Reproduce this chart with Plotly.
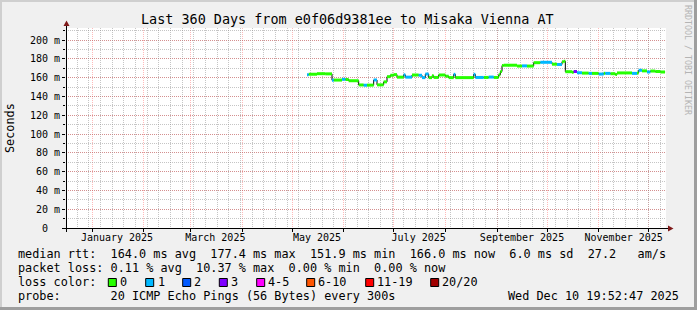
import plotly.graph_objects as go
import pandas as pd

# ---------------- data ----------------
dates = [
    "2025-05-10", "2025-05-11", "2025-05-16", "2025-05-21", "2025-05-25", "2025-05-26",
    "2025-05-31", "2025-06-02", "2025-06-04", "2025-06-10", "2025-06-13", "2025-06-15",
    "2025-06-19", "2025-06-21", "2025-06-25", "2025-06-27", "2025-06-29", "2025-07-01",
    "2025-07-03", "2025-07-07", "2025-07-08", "2025-07-12", "2025-07-16", "2025-07-18",
    "2025-07-20", "2025-07-22", "2025-07-24", "2025-07-25", "2025-07-28", "2025-08-01",
    "2025-08-03", "2025-08-06", "2025-08-07", "2025-08-18", "2025-08-19", "2025-08-24",
    "2025-08-27", "2025-08-30", "2025-09-02", "2025-09-03", "2025-09-04", "2025-09-05",
    "2025-09-13", "2025-09-16", "2025-09-19", "2025-09-23", "2025-09-27", "2025-10-04",
    "2025-10-07", "2025-10-10", "2025-10-11", "2025-10-12", "2025-10-16", "2025-10-17",
    "2025-10-19", "2025-10-22", "2025-10-26", "2025-10-28", "2025-11-01", "2025-11-04",
    "2025-11-05", "2025-11-08", "2025-11-11", "2025-11-12", "2025-11-21", "2025-11-24",
    "2025-11-25", "2025-11-27", "2025-11-30", "2025-12-02", "2025-12-05", "2025-12-08",
]
median_ms = [
    163.0, 163.6, 164.2, 164.0, 157.2, 157.4,
    158.2, 158.0, 156.7, 152.2, 151.9, 152.0,
    157.5, 152.3, 155.5, 161.0, 162.5, 163.2,
    160.5, 163.0, 160.5, 162.8, 162.5, 160.0,
    163.8, 160.0, 162.0, 160.2, 162.8, 161.5,
    160.0, 163.5, 160.0, 163.5, 160.2, 160.2,
    160.6, 160.2, 163.0, 166.5, 172.8, 173.2,
    172.3, 172.5, 172.3, 175.9, 176.3, 174.3,
    174.0, 177.0, 177.4, 166.3, 165.6, 166.5,
    165.2, 164.8, 164.5, 164.5, 163.8, 164.6,
    164.5, 164.2, 163.3, 165.0, 164.5, 165.0,
    167.8, 167.2, 166.0, 167.0, 166.5, 166.0,
]
loss_count = [
    1, 0, 0, 0, 1, 0,
    1, 0, 0, 0, 1, 0,
    1, 0, 0, 0, 0, 0,
    0, 1, 1, 0, 1, 1,
    1, 0, 0, 0, 0, 0,
    0, 1, 0, 1, 1, 0,
    1, 0, 0, 0, 0, 0,
    0, 1, 0, 0, 1, 0,
    1, 0, 0, 0, 0, 3,
    1, 0, 1, 0, 1, 0,
    1, 0, 0, 0, 1, 0,
    1, 0, 1, 0, 0, 0,
]
end_time = "2025-12-10 19:52"

x_range = ["2024-12-16 09:36", "2025-12-11 09:36"]
y_range = [0, 212.8]
y_ticks = [0, 20, 40, 60, 80, 100, 120, 140, 160, 180, 200]
y_ticktext = ["0\u00a0\u00a0"] + [f"{v} m" for v in y_ticks[1:]]
month_label_dates = ["2025-01-16", "2025-03-16", "2025-05-16", "2025-07-16", "2025-09-16", "2025-11-16"]
month_label_text = ["January 2025", "March 2025", "May 2025", "July 2025", "September 2025", "November 2025"]

loss_labels = ["0", "1", "2", "3", "4-5", "6-10", "11-19", "20/20"]
loss_colors = ["#26ff00", "#00b8ff", "#0059ff", "#7e00ff", "#ff00ff", "#ff5500", "#ff0000", "#a10000"]
loss_bins = [0, 1, 2, 3, 4, 6, 11, 20]

title = "Last 360 Days from e0f06d9381ee to Misaka Vienna AT"
row_rtt = "median rtt:  164.0 ms avg  177.4 ms max  151.9 ms min  166.0 ms now  6.0 ms sd  27.2   am/s"
row_loss = "packet loss: 0.11 % avg  10.37 % max  0.00 % min  0.00 % now"
row_color = "loss color:"
row_probe = "probe:       20 ICMP Echo Pings (56 Bytes) every 300s"
stamp = "Wed Dec 10 19:52:47 2025"

MONO = "DejaVu Sans Mono"
W, H = 697, 310
L, T, PW, PH = 66, 28, 600, 200
MGRID = "rgba(255,0,0,0.27)"
GRID = "rgba(140,140,140,0.5)"


def px(x):
    return (x - L) / PW


def py(y):
    return (T + PH - y) / PH


def nb(s):
    return s.replace(" ", "\u00a0")


def bin_index(n):
    idx = 0
    for i, b in enumerate(loss_bins):
        if n >= b:
            idx = i
    return idx


fig = go.Figure()

# invisible trace to activate the weekly-grid overlay axis
fig.add_trace(go.Scatter(x=x_range, y=[0, 0], xaxis="x2", mode="lines",
                         line=dict(width=0), opacity=0, hoverinfo="skip"))

# black median step line
fig.add_trace(go.Scatter(
    x=dates + [end_time], y=median_ms + [median_ms[-1]],
    mode="lines", line=dict(color="black", width=1, shape="hv"),
    hoverinfo="skip"))

# colored segments by loss
seg_end = dates[1:] + [end_time]
for ci, col in enumerate(loss_colors):
    xs, ys = [], []
    for t0, t1, v, n in zip(dates, seg_end, median_ms, loss_count):
        if bin_index(n) == ci:
            xs += [t0, t1, None]
            ys += [v, v, None]
    if xs:
        fig.add_trace(go.Scatter(x=xs, y=ys, mode="lines",
                                 line=dict(color=col, width=3), hoverinfo="skip"))

shapes = []
# axes lines and arrows
shapes.append(dict(type="line", xref="paper", yref="paper", x0=px(62), x1=px(669), y0=py(228.5), y1=py(228.5),
                   line=dict(color="black", width=1)))
shapes.append(dict(type="line", xref="paper", yref="paper", x0=px(66.5), x1=px(66.5), y0=py(232), y1=py(24),
                   line=dict(color="black", width=1)))
shapes.append(dict(type="path", xref="paper", yref="paper",
                   path=f"M {px(668)},{py(225.5)} L {px(673.5)},{py(228.5)} L {px(668)},{py(231.5)} Z",
                   fillcolor="#7f1a1a", line=dict(width=0)))
shapes.append(dict(type="path", xref="paper", yref="paper",
                   path=f"M {px(63.5)},{py(26)} L {px(66.5)},{py(20.5)} L {px(69.5)},{py(26)} Z",
                   fillcolor="#7f1a1a", line=dict(width=0)))

# frame
shapes.append(dict(type="rect", xref="paper", yref="paper", x0=px(0), x1=px(697), y0=py(0), y1=py(2),
                   fillcolor="#cfcfcf", line=dict(width=0)))
shapes.append(dict(type="rect", xref="paper", yref="paper", x0=px(0), x1=px(2), y0=py(0), y1=py(310),
                   fillcolor="#cfcfcf", line=dict(width=0)))
shapes.append(dict(type="rect", xref="paper", yref="paper", x0=px(694), x1=px(697), y0=py(0), y1=py(310),
                   fillcolor="#9e9e9e", line=dict(width=0)))
shapes.append(dict(type="rect", xref="paper", yref="paper", x0=px(0), x1=px(697), y0=py(307), y1=py(310),
                   fillcolor="#9e9e9e", line=dict(width=0)))

# loss colour boxes
box_x = [108.3, 145.7, 182.7, 219.3, 256.7, 306.7, 365.7, 430.7]
for bx, col in zip(box_x, loss_colors):
    shapes.append(dict(type="rect", xref="paper", yref="paper", x0=px(bx), x1=px(bx + 8),
                       y0=py(278.5), y1=py(286.5), fillcolor=col, line=dict(color="black", width=1)))

annotations = []


def text(x, y, s, size=11.83, anchor="left", color="black", angle=0):
    annotations.append(dict(x=px(x), y=py(y), xref="paper", yref="paper", text=nb(s),
                            showarrow=False, xanchor=anchor, yanchor="middle", textangle=angle,
                            font=dict(family=MONO, size=size, color=color)))


text(347.7, 19, title, size=13.45, anchor="center")
text(15.5, 254, row_rtt)
text(15.5, 268, row_loss)
text(15.5, 282, row_color)
text(15.5, 296, row_probe)
text(681, 296, stamp, anchor="right")
label_x = [119, 156.7, 193, 230, 267, 317, 376, 441]
for lx, lab in zip(label_x, loss_labels):
    text(lx - 0.8, 282, lab)
text(10, 128, "Seconds", anchor="center", angle=-90)
text(688, 60, "RRDTOOL / TOBI OETIKER", size=8.3, anchor="center", color="#b4b4b4", angle=90)

fig.update_layout(
    width=W, height=H,
    margin=dict(l=L, r=W - L - PW, t=T, b=H - T - PH, pad=0),
    paper_bgcolor="#f0f0f0", plot_bgcolor="white",
    showlegend=False,
    shapes=shapes, annotations=annotations,
    xaxis=dict(
        type="date", range=x_range, tickmode="array",
        tickvals=month_label_dates, ticktext=month_label_text,
        ticks="", showgrid=False, zeroline=False, showline=False,
        ticklabelstandoff=2,
        tickfont=dict(family=MONO, size=10, color="black"),
        minor=dict(tickmode="array", tickvals=list(pd.date_range("2025-01-01", "2025-12-01", freq="MS")),
                   ticks="outside", ticklen=3, tickcolor="black", tickwidth=1,
                   showgrid=True, gridcolor=MGRID, griddash="1px,1px", gridwidth=1),
    ),
    xaxis2=dict(
        type="date", range=x_range, overlaying="x", side="bottom",
        tickmode="linear", tick0="2024-12-23", dtick=7 * 86400000,
        showticklabels=False, ticks="", showgrid=True, gridcolor=GRID,
        griddash="1px,1px", gridwidth=1, zeroline=False, showline=False,
    ),
    yaxis=dict(
        range=y_range, tickmode="array", tickvals=y_ticks, ticktext=y_ticktext,
        ticks="outside", ticklen=3, tickcolor="black", tickwidth=1,
        showgrid=True, gridcolor=MGRID, griddash="1px,1px", gridwidth=1,
        zeroline=False, showline=False,
        tickfont=dict(family=MONO, size=10, color="black"),
        minor=dict(dtick=10, tick0=0, ticks="outside", ticklen=2, tickcolor="black",
                   showgrid=True, gridcolor=GRID, griddash="1px,1px", gridwidth=1),
    ),
)

fig.write_html("out.html")
